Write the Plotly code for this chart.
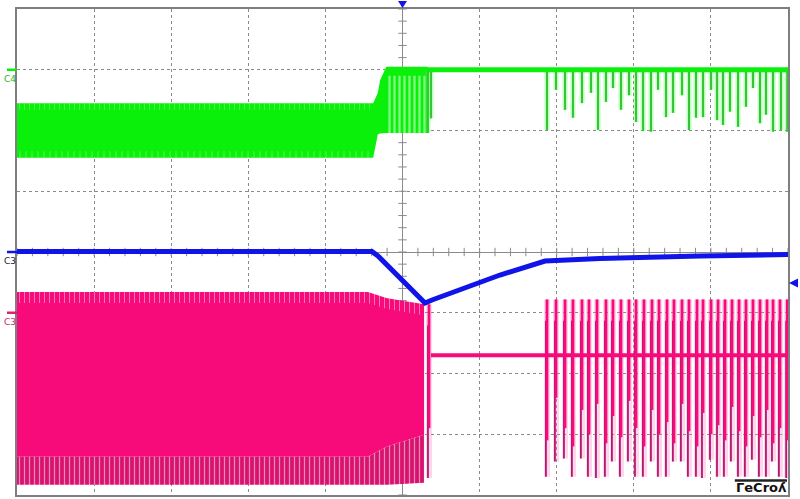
import numpy as np
import plotly.graph_objects as go

# ---------------- data (screen divisions: x = time rel. trigger, y = vertical divisions) ----
# C4 (green) envelope of the switching burst before / during the transition
c4_env_t  = [-5.0, -0.38, -0.32, -0.29, -0.21, 0.33]
c4_env_hi = [2.45, 2.45, 2.62, 2.83, 3.05, 3.05]
c4_env_lo = [1.55, 1.55, 1.94, 1.95, 1.96, 1.96]
c4_burst_t  = [-0.21, 0.33]
c4_burst_hi = [2.90, 2.90]
c4_burst_lo = [1.96, 1.96]
c4_flat_t = [0.33, 5.0]
c4_flat_v = [3.0, 3.0]
c4_level = 3.0
c4_spike_t  = [0.33, 0.37, 1.874, 1.991, 2.108, 2.211, 2.328, 2.445, 2.536, 2.639, 2.730, 2.834,
               2.938, 3.029, 3.120, 3.223, 3.314, 3.418, 3.509, 3.625, 3.716, 3.807, 3.898,
               4.002, 4.080, 4.157, 4.248, 4.352, 4.455, 4.546, 4.637, 4.715, 4.806, 4.909, 4.990]
c4_spike_lo = [1.96, 2.20, 2.01, 2.67, 2.34, 2.21, 2.45, 2.62, 2.01, 2.47, 2.70, 2.34,
               2.58, 2.14, 1.99, 1.98, 2.67, 2.22, 2.29, 2.58, 2.01, 2.21, 2.22,
               2.67, 2.17, 2.09, 2.31, 2.06, 2.39, 2.70, 2.12, 2.26, 1.98, 2.01, 1.98]

# C3 (blue)
c3b_t = [-5.0, -0.396, -0.318, 0.006, 0.292, 0.383, 1.265, 1.848, 2.561, 3.859, 5.0]
c3b_v = [0.008, 0.008, -0.066, -0.477, -0.840, -0.790, -0.379, -0.148, -0.107, -0.066, -0.041]

# C3 (magenta) envelope
c3m_env_t   = [-5.0, -0.45, -0.20, 0.28]
c3m_env_hi  = [-0.66, -0.66, -0.76, -0.86]
c3m_env_mid = [-3.37, -3.37, -3.20, -3.01]
c3m_env_lo  = [-3.83, -3.83, -3.83, -3.80]
c3m_flat_t = [0.37, 5.0]
c3m_flat_v = [-1.70, -1.70]
c3m_spike_t = [0.344, 1.874, 1.991, 2.108, 2.211, 2.328, 2.419, 2.523, 2.639, 2.730, 2.834, 2.938,
               3.029, 3.132, 3.236, 3.327, 3.431, 3.521, 3.625, 3.716, 3.820, 3.898, 4.002,
               4.093, 4.183, 4.274, 4.365, 4.455, 4.546, 4.637, 4.728, 4.806, 4.896, 4.990]
c3m_spike_hi = [-0.86] + [-0.78] * 33
c3m_spike_lo = [-3.72, -3.70, -3.45, -3.40, -3.70, -3.40, -3.70, -3.72, -3.70, -3.45, -3.70, -3.45,
                -3.70, -3.70, -3.45, -3.70, -3.70, -3.45, -3.45, -3.70, -3.70, -3.72, -3.42,
                -3.70, -3.70, -3.45, -3.70, -3.70, -3.42, -3.70, -3.70, -3.45, -3.70, -3.72]
c3m_spike_mid = [-2.90, -3.10, -2.40, -2.90, -3.20, -2.60, -3.00, -2.50, -3.15, -2.70, -3.05, -2.45,
                 -2.90, -3.20, -2.60, -3.00, -2.80, -3.15, -2.50, -2.95, -3.20, -2.65, -3.00,
                 -2.85, -3.10, -2.55, -2.95, -3.20, -2.70, -3.05, -2.60, -3.15, -2.90, -3.10]

ch_labels = ["C4", "C3", "C3"]
ch_levels = [3.0, 0.0, -1.0]
trig_pos = 0.0
trig_level = -0.51

GREEN = "#0af00a"
GREEN_D = "#35c435"
BLUE = "#1014e8"
PINK = "#f70a7a"
PINK_D = "#b3186e"
GRID = "#8a8a8a"

# plot-area geometry (pixels) used to place off-grid indicators in paper coordinates
L, R, T, B = 17, 12, 9, 4
W, H = 800, 499
PW, PH = W - L - R, H - T - B


def poly(t, hi, lo):
    return list(t) + list(t)[::-1], list(hi) + list(lo)[::-1]


def segs(ts, a, b, dx=0.0):
    xs, ys = [], []
    for t, y0, y1 in zip(ts, a, b):
        xs += [t + dx, t + dx, None]
        ys += [y0, y1, None]
    return xs, ys


fig = go.Figure()

# centre-line graticule ticks
tx = np.arange(-5, 5.001, 0.2)
ty = np.arange(-4, 4.001, 0.2)
fig.add_trace(go.Scatter(x=tx, y=[0] * len(tx), mode="markers", hoverinfo="skip",
                         marker=dict(symbol="line-ns", size=6, line=dict(width=1, color=GRID))))
fig.add_trace(go.Scatter(x=[0] * len(ty), y=ty, mode="markers", hoverinfo="skip",
                         marker=dict(symbol="line-ew", size=6, line=dict(width=1, color=GRID))))

# ---- green C4 ----
x, y = poly(c4_env_t, c4_env_hi, c4_env_lo)
fig.add_trace(go.Scatter(x=x, y=y, fill="toself", fillcolor=GREEN, mode="none", hoverinfo="skip"))
x, y = poly(c4_env_t[:2], [2.45, 2.45], [2.34, 2.34])
fig.add_trace(go.Scatter(x=x, y=y, fill="toself", mode="none", hoverinfo="skip",
                         fillpattern=dict(shape="|", size=5, solidity=0.14,
                                          fgcolor="rgba(200,255,200,0.85)", bgcolor="rgba(0,0,0,0)")))
x, y = poly(c4_env_t[:2], [1.66, 1.66], [1.55, 1.55])
fig.add_trace(go.Scatter(x=x, y=y, fill="toself", mode="none", hoverinfo="skip",
                         fillpattern=dict(shape="|", size=6, solidity=0.14,
                                          fgcolor="rgba(200,255,200,0.85)", bgcolor="rgba(0,0,0,0)")))
x, y = poly(c4_burst_t, c4_burst_hi, c4_burst_lo)
fig.add_trace(go.Scatter(x=x, y=y, fill="toself", mode="none", hoverinfo="skip",
                         fillpattern=dict(shape="|", size=5, solidity=0.45,
                                          fgcolor="white", bgcolor="rgba(0,0,0,0)")))
x, y = segs(c4_spike_t, [c4_level] * len(c4_spike_t), c4_spike_lo)
fig.add_trace(go.Scatter(x=x, y=y, mode="lines", hoverinfo="skip",
                         line=dict(color="rgba(60,255,60,0.35)", width=5)))
fig.add_trace(go.Scatter(x=x, y=y, mode="lines", hoverinfo="skip",
                         line=dict(color=GREEN_D, width=2)))
fig.add_trace(go.Scatter(x=c4_flat_t, y=c4_flat_v, mode="lines", hoverinfo="skip",
                         line=dict(color=GREEN, width=5)))

# ---- magenta C3 ----
x, y = poly(c3m_env_t, c3m_env_hi, c3m_env_mid)
fig.add_trace(go.Scatter(x=x, y=y, fill="toself", fillcolor=PINK, mode="none", hoverinfo="skip"))
x, y = poly(c3m_env_t, c3m_env_mid, c3m_env_lo)
fig.add_trace(go.Scatter(x=x, y=y, fill="toself", mode="none", hoverinfo="skip",
                         fillpattern=dict(shape="|", size=5, solidity=0.25,
                                          fgcolor="white", bgcolor="#d8126e")))
x, y = poly(c3m_env_t, c3m_env_hi, [h - 0.18 for h in c3m_env_hi])
fig.add_trace(go.Scatter(x=x, y=y, fill="toself", mode="none", hoverinfo="skip",
                         fillpattern=dict(shape="|", size=5, solidity=0.2,
                                          fgcolor="rgba(255,235,245,0.95)", bgcolor="rgba(0,0,0,0)")))
x, y = segs(c3m_spike_t, c3m_spike_hi, c3m_spike_lo)
fig.add_trace(go.Scatter(x=x, y=y, mode="lines", hoverinfo="skip",
                         line=dict(color="rgba(255,120,190,0.30)", width=6)))
x, y = segs(c3m_spike_t, [h - 0.35 for h in c3m_spike_hi], c3m_spike_lo, dx=-0.014)
fig.add_trace(go.Scatter(x=x, y=y, mode="lines", hoverinfo="skip",
                         line=dict(color=PINK_D, width=1.8)))
x, y = segs(c3m_spike_t, c3m_spike_hi, c3m_spike_mid)
fig.add_trace(go.Scatter(x=x, y=y, mode="lines", hoverinfo="skip",
                         line=dict(color=PINK, width=2.8)))
fig.add_trace(go.Scatter(x=c3m_flat_t, y=c3m_flat_v, mode="lines", hoverinfo="skip",
                         line=dict(color=PINK, width=4)))

# ---- blue C3 ----
fig.add_trace(go.Scatter(x=c3b_t, y=c3b_v, mode="lines", hoverinfo="skip",
                         line=dict(color=BLUE, width=5)))

shapes = []
annotations = []


def px_x(div):
    return (div + 5) / 10


def px_y(div):
    return (div + 4) / 8


# trigger position (top) and trigger level (right) indicators
cx = px_x(trig_pos)
dx = 4.5 / PW
shapes.append(dict(type="path", xref="paper", yref="paper", fillcolor=BLUE, line=dict(width=0),
                   path=f"M{cx - dx},{1 + 8 / PH} L{cx + dx},{1 + 8 / PH} L{cx},{1 + 1 / PH} Z"))
cy = px_y(trig_level)
dy = 4.5 / PH
shapes.append(dict(type="path", xref="paper", yref="paper", fillcolor=BLUE, line=dict(width=0),
                   path=f"M{1 + 1 / PW},{cy} L{1 + 10 / PW},{cy + dy} L{1 + 10 / PW},{cy - dy} Z"))

# channel reference markers
ch_colors = [GREEN, BLUE, "#e0206e"]
lab_colors = ["#22bb22", "#222233", "#c02a6a"]
for lab, lev, c, lc in zip(ch_labels, ch_levels, ch_colors, lab_colors):
    py = px_y(lev)
    shapes.append(dict(type="line", xref="paper", yref="paper", x0=-10 / PW, x1=0.0,
                       y0=py, y1=py, line=dict(color=c, width=2.5)))
    annotations.append(dict(text=lab, xref="paper", yref="paper", x=-7 / PW, y=py - 9 / PH,
                            xanchor="center", yanchor="middle", showarrow=False,
                            font=dict(family="DejaVu Sans", size=9, color=lc)))

# LeCroy logo (flipped lettering as on the screenshot)
shapes.append(dict(type="line", xref="paper", yref="paper", x0=0.931, x1=0.9987,
                   y0=0.0298, y1=0.0298, line=dict(color="#222", width=2.5)))
annotations.append(dict(text="<b>ΓeCroʎ</b>", xref="paper", yref="paper", x=0.965, y=0.0155,
                        xanchor="center", yanchor="middle", showarrow=False,
                        font=dict(family="DejaVu Sans", size=13, color="#111")))

axis_common = dict(showgrid=True, gridcolor=GRID, griddash="dot", gridwidth=1,
                   zeroline=True, zerolinecolor=GRID, zerolinewidth=1,
                   showline=True, mirror=True, linecolor="#7f7f7f", linewidth=2,
                   showticklabels=False, ticks="", fixedrange=True)
fig.update_xaxes(range=[-5, 5], dtick=1, tick0=0, **axis_common)
fig.update_yaxes(range=[-4, 4], dtick=1, tick0=0, **axis_common)

fig.update_layout(width=W, height=H,
                  margin=dict(l=L, r=R, t=T, b=B, pad=0, autoexpand=False),
                  paper_bgcolor="white", plot_bgcolor="white", showlegend=False,
                  shapes=shapes, annotations=annotations)

fig.write_html("out.html", config={"displayModeBar": False},
               post_script="document.body.style.margin='0';document.body.style.overflow='hidden';")
